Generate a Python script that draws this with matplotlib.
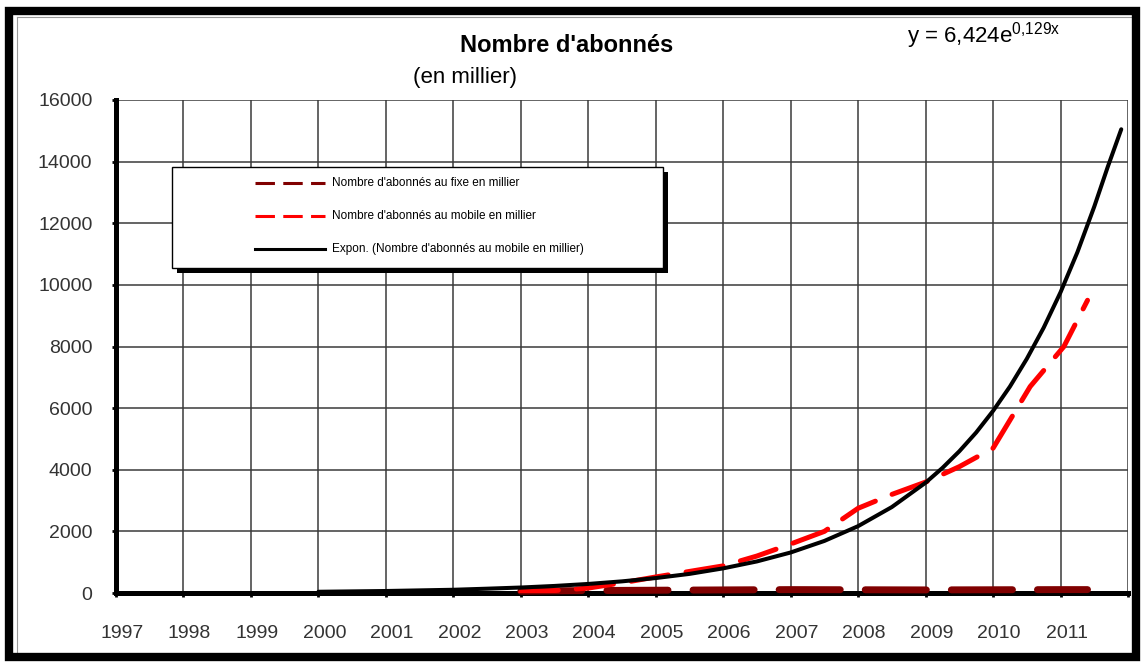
import matplotlib
matplotlib.use("Agg")
import matplotlib.pyplot as plt
from matplotlib.patches import Rectangle
from matplotlib.lines import Line2D
from matplotlib.transforms import ScaledTranslation

plt.rcParams['font.family'] = ['Liberation Sans', 'DejaVu Sans']
plt.rcParams['lines.scale_dashes'] = False

# ---- data ----
years = list(range(1997, 2012))
year_labels = [str(y) for y in years]

fixed_x = [2003, 2004, 2005, 2006, 2007, 2008, 2009, 2010, 2011, 2011.4]
fixed_y = [60, 80, 90, 100, 110, 105, 100, 105, 110, 110]

mobile_x = [2003, 2003.5, 2004, 2004.5, 2005, 2005.5, 2006, 2006.5, 2007, 2007.5,
            2008, 2008.5, 2009, 2009.5, 2010, 2010.55, 2011.05, 2011.4]
mobile_y = [30, 80, 160, 330, 520, 700, 880, 1200, 1590, 2000,
            2750, 3200, 3600, 4100, 4700, 6700, 8000, 9500]

trend_x = [2000, 2001, 2002, 2002.5, 2003, 2003.5, 2004, 2004.5, 2005, 2005.5,
           2006, 2006.5, 2007, 2007.5, 2008, 2008.5, 2009, 2009.25, 2009.5, 2009.75,
           2010, 2010.25, 2010.5, 2010.75, 2011, 2011.25, 2011.5, 2011.7, 2011.9]
trend_y = [40, 65, 105, 140, 178, 229, 294, 378, 485, 620,
           800, 1025, 1315, 1690, 2170, 2790, 3580, 4060, 4600, 5210,
           5910, 6700, 7600, 8610, 9760, 11060, 12540, 13830, 15050]

y_ticks = [0, 2000, 4000, 6000, 8000, 10000, 12000, 14000, 16000]

legend_labels = ["Nombre d'abonnés au fixe en millier",
                 "Nombre d'abonnés au mobile en millier",
                 "Expon. (Nombre d'abonnés au mobile en millier)"]

title = "Nombre d'abonnés"
subtitle = "(en millier)"

# ---- figure ----
W, H = 1142, 663
fig = plt.figure(figsize=(W / 100, H / 100), dpi=100)
fig.patch.set_facecolor('white')

def fx(px):
    return px / W

def fy(py):
    return (H - py) / H

ax = fig.add_axes([fx(116), fy(593), fx(1128) - fx(116), fy(100) - fy(593)])
ax.set_xlim(1997, 2012)
ax.set_ylim(0, 16000)

grid_c = '#3a3a3a'
ax.set_xticks(list(range(1997, 2013)))
ax.set_xticklabels(year_labels + [''])
ax.set_yticks(y_ticks)
ax.set_yticklabels([str(v) for v in y_ticks])
ax.grid(True, color=grid_c, linewidth=1.1, zorder=0)
ax.set_axisbelow(True)
for s in ['top', 'right']:
    ax.spines[s].set_visible(False)
for s in ['left', 'bottom']:
    ax.spines[s].set_linewidth(3.6)
    ax.spines[s].set_color('black')
    ax.spines[s].set_capstyle('projecting')
ax.tick_params(axis='both', length=3, width=2.0, direction='out', color='black',
               labelsize=14, labelcolor='#333333')
ax.tick_params(axis='y', pad=14)
ax.tick_params(axis='x', pad=20)
off = ScaledTranslation(6 / 100, 0, fig.dpi_scale_trans)
for lab in ax.get_xticklabels():
    lab.set_transform(lab.get_transform() + off)

# series
ax.plot(fixed_x, fixed_y, color='#800000', linewidth=5.0, dashes=(44, 18),
        dash_capstyle='round', zorder=4, clip_on=False)
ax.plot(mobile_x, mobile_y, color='#ff0000', linewidth=3.6, dashes=(27, 13),
        dash_capstyle='round', zorder=5)
ax.plot(trend_x, trend_y, color='black', linewidth=2.9, solid_capstyle='round',
        solid_joinstyle='round', zorder=6)

# titles
fig.text(fx(567), fy(46), title, ha='center', va='center', fontsize=17, fontweight='bold')
fig.text(fx(465), fy(77), subtitle, ha='center', va='center', fontsize=16)
fig.text(fx(907), fy(36), r"y = 6,424e$^{\mathregular{0{,}129x}}$", ha='left', va='center',
         fontsize=16)

# legend (manual box with shadow)
lx0, ly0, lx1, ly1 = 172, 167, 663, 268
fig.patches.append(Rectangle((fx(lx0 + 5), fy(ly1 + 5)), fx(lx1) - fx(lx0), fy(ly0) - fy(ly1),
                             transform=fig.transFigure, facecolor='black', edgecolor='black',
                             linewidth=0, zorder=10))
fig.patches.append(Rectangle((fx(lx0), fy(ly1)), fx(lx1) - fx(lx0), fy(ly0) - fy(ly1),
                             transform=fig.transFigure, facecolor='white', edgecolor='black',
                             linewidth=1.0, zorder=11))
rows = [183, 216, 249]
styles = [dict(color='#800000', linewidth=2.2, dashes=(14, 6)),
          dict(color='#ff0000', linewidth=2.2, dashes=(14, 6)),
          dict(color='black', linewidth=2.2)]
for r, st, lab in zip(rows, styles, legend_labels):
    fig.lines.append(Line2D([fx(255), fx(325)], [fy(r), fy(r)], transform=fig.transFigure,
                            zorder=12, **st))
    fig.text(fx(332), fy(r), lab, ha='left', va='center', fontsize=8.5, zorder=12,
             family=['Liberation Sans Narrow', 'Liberation Sans', 'DejaVu Sans'])

# outer frame
fig.patches.append(Rectangle((fx(9), fy(657)), fx(1136) - fx(9), fy(10.5) - fy(657),
                             transform=fig.transFigure, facecolor='none', edgecolor='black',
                             linewidth=6.0, zorder=20))
fig.lines.append(Line2D([fx(16.5), fx(16.5)], [fy(16.5), fy(652)], transform=fig.transFigure,
                        color='#999999', linewidth=0.8, zorder=20))
fig.lines.append(Line2D([fx(16.5), fx(1131)], [fy(16.5), fy(16.5)], transform=fig.transFigure,
                        color='#999999', linewidth=0.8, zorder=20))

fig.savefig('out.png', dpi=100, facecolor='white')
